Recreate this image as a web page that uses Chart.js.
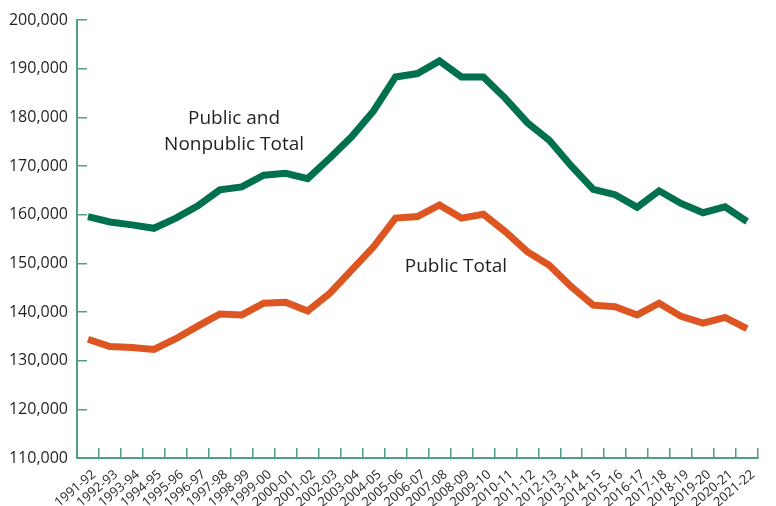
<!DOCTYPE html>
<html>
<head>
<meta charset="utf-8">
<script src="https://cdn.jsdelivr.net/npm/chart.js@4.4.1/dist/chart.umd.min.js"></script>
<style>
  html, body { margin: 0; padding: 0; background: #fff; }
  #wrap { width: 776px; height: 506px; }
</style>
</head>
<body>
<div id="wrap"><canvas id="chart"></canvas></div>
<script>
'use strict';

// ── Data ────────────────────────────────────────────────
const years = [
  '1991-92','1992-93','1993-94','1994-95','1995-96','1996-97','1997-98','1998-99',
  '1999-00','2000-01','2001-02','2002-03','2003-04','2004-05','2005-06','2006-07',
  '2007-08','2008-09','2009-10','2010-11','2011-12','2012-13','2013-14','2014-15',
  '2015-16','2016-17','2017-18','2018-19','2019-20','2020-21','2021-22'
];

const publicNonpublicTotal = [
  159600, 158500, 157900, 157200, 159300, 161800, 165100, 165700,
  168100, 168500, 167400, 171600, 176000, 181300, 188300, 189000,
  191600, 188300, 188300, 183900, 178900, 175300, 170000, 165200,
  164100, 161500, 164900, 162300, 160400, 161600, 158600
];

const publicTotal = [
  134400, 132900, 132700, 132300, 134500, 137100, 139600, 139400,
  141800, 142000, 140200, 143800, 148600, 153400, 159300, 159600,
  162000, 159300, 160100, 156500, 152400, 149600, 145200, 141400,
  141100, 139400, 141800, 139100, 137700, 138900, 136600
];

const yTicks = [110000, 120000, 130000, 140000, 150000, 160000, 170000, 180000, 190000, 200000];

const GREEN  = '#00704f';
const ORANGE = '#dd5520';
const AXIS   = '#4f9f84';
const TEXT   = '#231f20';

// ── Annotation labels drawn at data coordinates ──────────
const labelPlugin = {
  id: 'seriesLabels',
  afterDatasetsDraw(chart) {
    const { ctx, scales: { x, y } } = chart;
    const put = (txt, idx, val) => {
      ctx.fillText(txt, x.getPixelForValue(idx), y.getPixelForValue(val));
    };
    ctx.save();
    ctx.font = '19px "Open Sans"';
    ctx.fillStyle = TEXT;
    ctx.textAlign = 'center';
    ctx.textBaseline = 'middle';
    put('Public and', 6.65, 179800);
    put('Nonpublic Total', 6.65, 174500);
    put('Public Total', 16.75, 149400);
    ctx.restore();
  }
};

new Chart(document.getElementById('chart'), {
  type: 'line',
  data: {
    labels: years,
    datasets: [
      {
        label: 'Public and Nonpublic Total',
        data: publicNonpublicTotal,
        borderColor: GREEN,
        borderWidth: 7,
        pointRadius: 0,
        tension: 0
      },
      {
        label: 'Public Total',
        data: publicTotal,
        borderColor: ORANGE,
        borderWidth: 7,
        pointRadius: 0,
        tension: 0
      }
    ]
  },
  options: {
    responsive: true,
    maintainAspectRatio: false,
    animation: false,
    layout: { padding: { top: 20, right: 0, left: 0, bottom: 0 } },
    plugins: {
      legend: { display: false },
      tooltip: { enabled: false }
    },
    scales: {
      x: {
        offset: true,
        grid: {
          offset: true,
          drawOnChartArea: false,
          color: AXIS,
          lineWidth: 1.5,
          tickLength: -10
        },
        border: { color: AXIS, width: 2 },
        ticks: {
          color: TEXT,
          font: { family: '"Open Sans"', size: 13 },
          minRotation: 40,
          maxRotation: 40,
          padding: 19,
          labelOffset: 6,
          autoSkip: false
        },
        afterFit: (s) => { s.height = 48; }
      },
      y: {
        min: 110000,
        max: 200000,
        afterBuildTicks: (s) => { s.ticks = yTicks.map(v => ({ value: v })); },
        grid: {
          drawOnChartArea: false,
          color: AXIS,
          lineWidth: 1.5,
          tickLength: -10
        },
        border: { color: AXIS, width: 2 },
        ticks: {
          color: TEXT,
          font: { family: '"Open Sans"', size: 16 },
          padding: 19,
          callback: (v) => v.toLocaleString('en-US')
        },
        // tick padding would otherwise push the plot area down
        afterFit: (s) => { s.width = 77; s.paddingTop = 10; s.paddingBottom = 10; }
      }
    }
  },
  plugins: [labelPlugin]
});
</script>
</body>
</html>
